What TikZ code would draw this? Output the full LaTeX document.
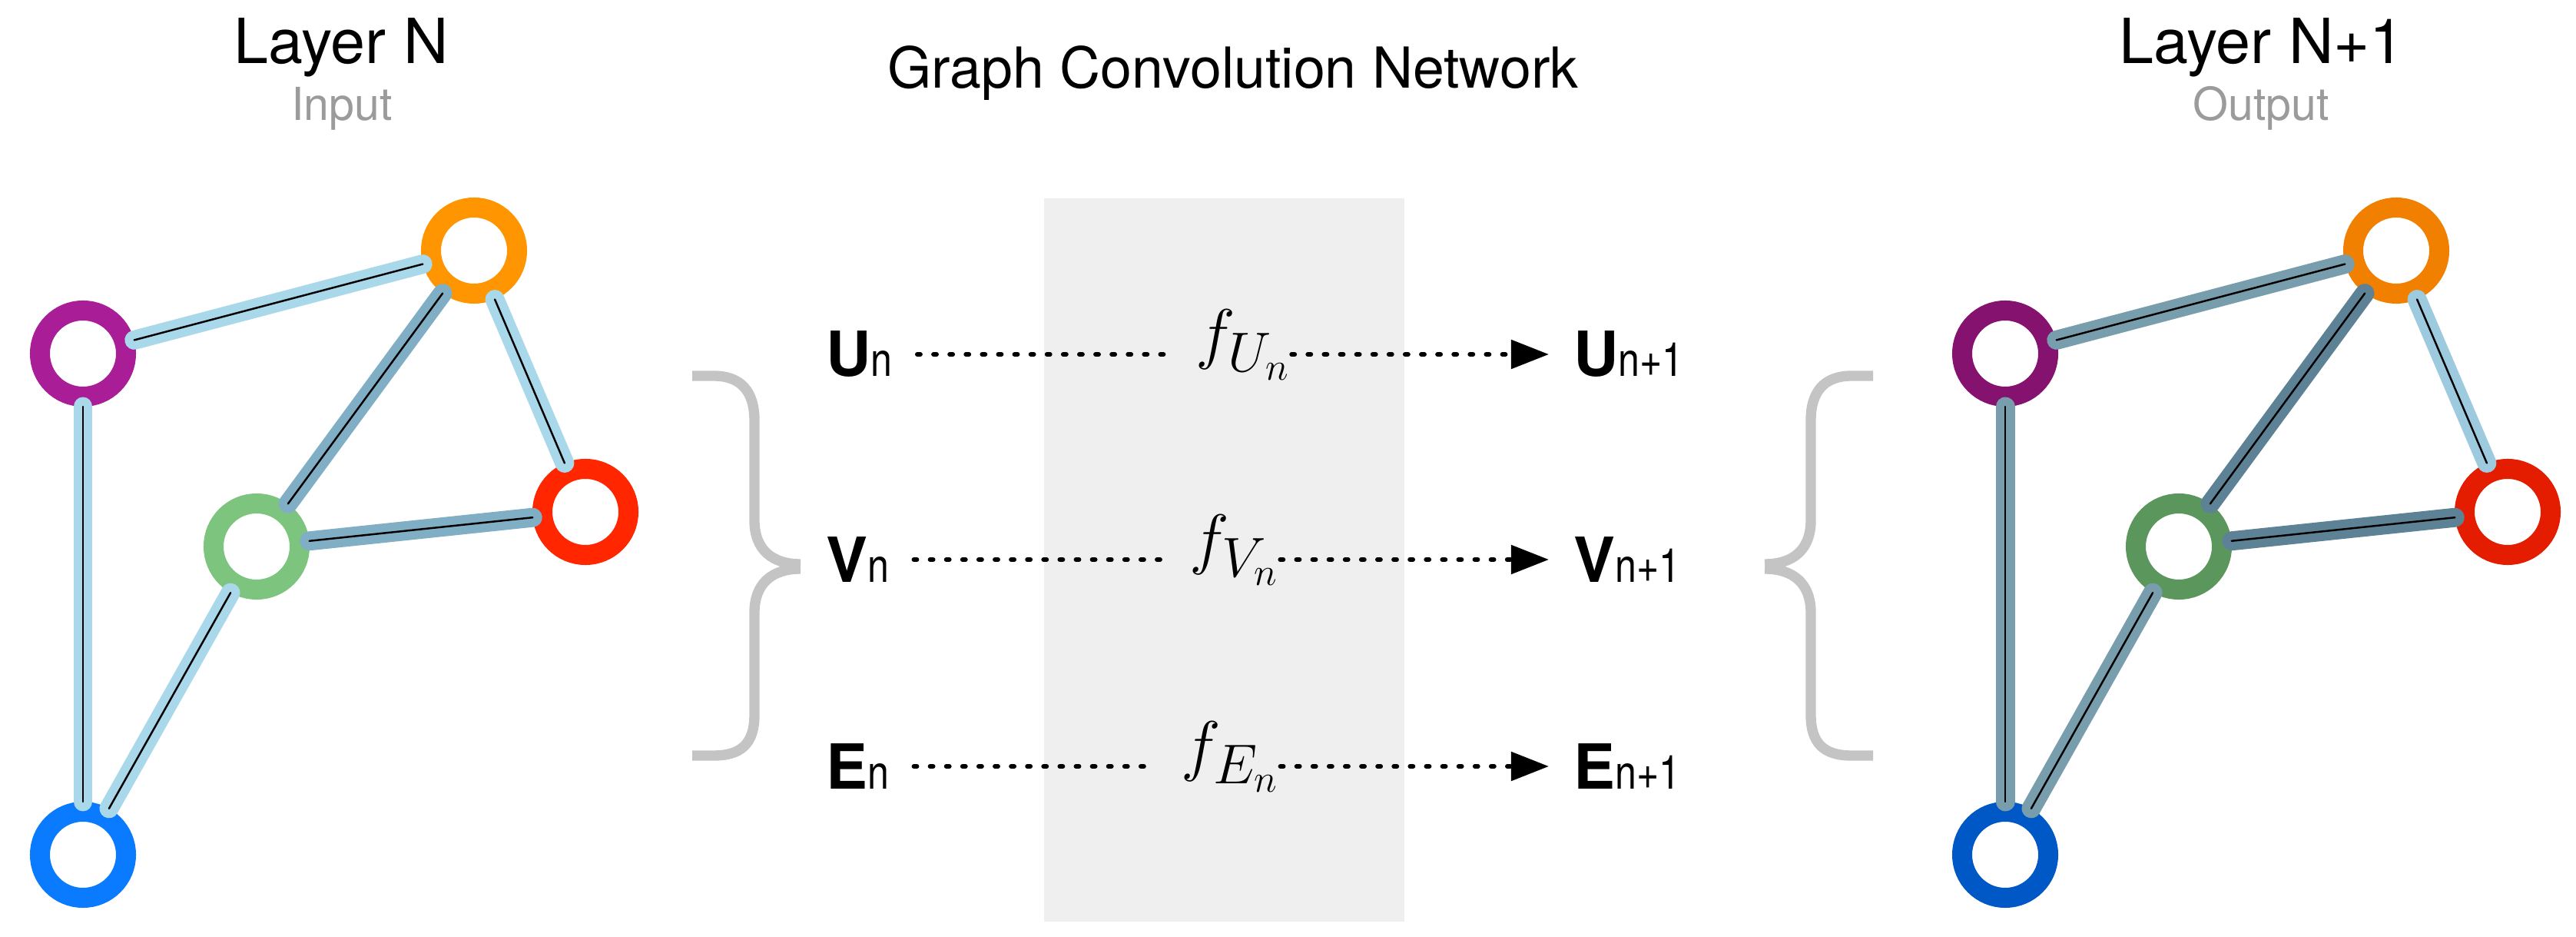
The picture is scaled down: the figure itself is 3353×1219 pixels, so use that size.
\documentclass[tikz,border=0pt]{standalone}
\usepackage{fontspec}
\setmainfont{TeX Gyre Heros}
\usetikzlibrary{arrows.meta}
\definecolor{purpL}{HTML}{A91D97}
\definecolor{orngL}{HTML}{FF9500}
\definecolor{redL}{HTML}{FF2600}
\definecolor{grnL}{HTML}{7DC57F}
\definecolor{bluL}{HTML}{0A7AFF}
\definecolor{purpR}{HTML}{861270}
\definecolor{orngR}{HTML}{F28000}
\definecolor{redR}{HTML}{E41D00}
\definecolor{grnR}{HTML}{5B975D}
\definecolor{bluR}{HTML}{0058C6}
\definecolor{edgeA}{HTML}{A8D8EA}
\definecolor{edgeB}{HTML}{80AEC4}
\definecolor{edgeC}{HTML}{9DCADF}
\definecolor{edgeM}{HTML}{789EAE}
\definecolor{edgeD}{HTML}{5E8295}
\definecolor{braceG}{HTML}{C4C4C4}
\definecolor{bandG}{HTML}{EFEFEF}
\definecolor{txtG}{HTML}{9B9B9B}
\newcommand\idx[1]{{\fontsize{17.4pt}{20pt}\selectfont\scalebox{.82}[1]{#1}}}
\tikzset{
  ring/.style={circle,draw=#1,line width=7.4pt,minimum size=1.12cm,inner sep=0pt},
  edge/.style={line width=.7pt,line cap=round,preaction={draw=#1,line width=7.1pt,line cap=round}},
  brace/.style={draw=braceG,line width=3.8pt},
  dotline/.style={line width=1.7pt,line cap=round,dash pattern=on 1.1pt off 4.9pt},
  lbl/.style={font=\fontsize{23pt}{27pt}\selectfont,inner xsep=9pt,inner ysep=0pt,anchor=west},
  fn/.style={font=\fontsize{28.5pt}{30pt}\selectfont,inner sep=0pt,anchor=base west},
  ttl/.style={anchor=base,font=\fontsize{#1}{1.2\dimexpr#1\relax}\selectfont}
}
\def\bracepath{(901,489) -- (929,489) .. controls (965,489) and (982,510) .. (982,547) -- (982,677)
  .. controls (982,715) and (1005,734) .. (1042,734)
  (1042,740) .. controls (1005,740) and (982,759) .. (982,797) -- (982,930)
  .. controls (982,967) and (965,983) .. (929,983) -- (901,983)}
\begin{document}
\begin{tikzpicture}[x=0.01cm,y=-0.01cm]
\useasboundingbox (0,0) rectangle (3353,1219);
\fill[bandG] (1359,258) rectangle (1828,1199);
% titles
\node[ttl=23pt] (layN) at (444,83) {Layer N};
\node[ttl=16.8pt,text=txtG] (inp) at (445,157) {Input};
\node[ttl=20.9pt] (gcn) at (1605,115) {Graph Convolution Network};
\node[ttl=23pt] (layN1) at (2944,83) {Layer N+1};
\node[ttl=16.8pt,text=txtG] (outp) at (2943,157) {Output};
% both graphs, the output one shifted right
\foreach \n/\x/\y/\cl/\cr in {P/108/460/purpL/purpR,O/617/326/orngL/orngR,R/762/666/redL/redR,G/334/711/grnL/grnR,B/108/1112/bluL/bluR}{
  \node[ring=\cl] (L\n) at (\x,\y) {};
  \node[ring=\cr] (R\n) at (\x+2502,\y) {};
}
\foreach \a/\b/\el/\er in {P/O/edgeA/edgeM,P/B/edgeA/edgeM,O/G/edgeB/edgeD,O/R/edgeA/edgeC,G/R/edgeB/edgeD,G/B/edgeA/edgeM}{
  \draw[edge=\el] (L\a) -- (L\b);
  \draw[edge=\er] (R\a) -- (R\b);
}
% braces
\draw[brace] \bracepath;
\draw[brace,shift={(3339,0)},xscale=-1] \bracepath;
% rows
\foreach \r/\y/\fx in {U/461/1556,V/728/1548,E/997/1537}{
  \node[lbl] (\r0) at (1043,\y) {\textbf{\r}\idx{n}};
  \node[lbl] (\r1) at (2016,\y) {\textbf{\r}\idx{n+1}};
  \node[fn] (f\r) at (\fx,\y+3) {$f_{\r_n}$};
  \draw[dotline,shorten >=9.5pt] (\r0) -- (\r0 -| f\r.west);
  \draw[dotline,-{Triangle[length=14pt,width=10.5pt]}] (\r0 -| f\r.east) -- (\r1);
}
\end{tikzpicture}
\end{document}
